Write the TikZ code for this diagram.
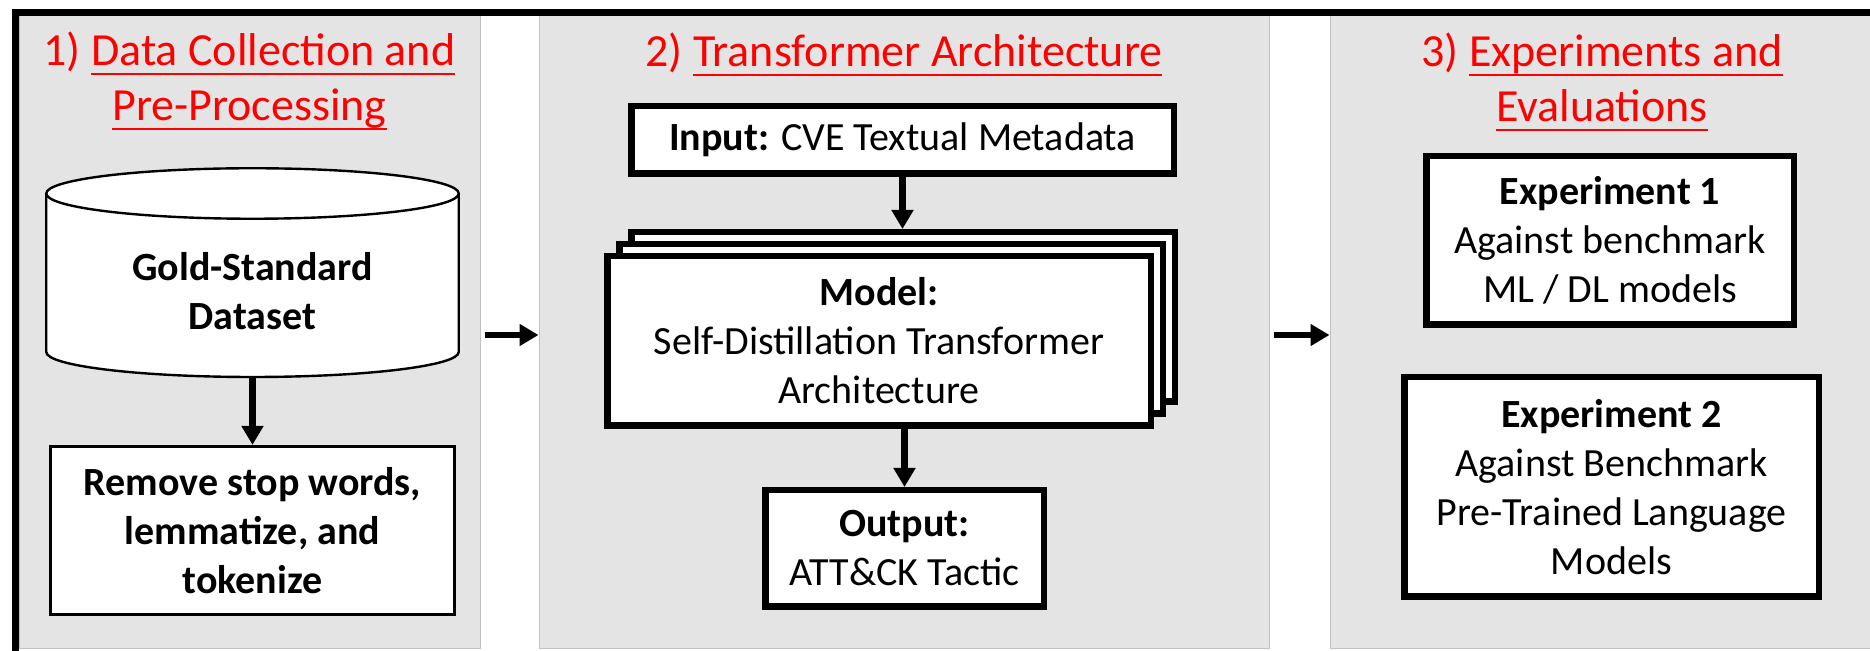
\documentclass[tikz,border=0pt]{standalone}
\usepackage{fontspec}
\setmainfont{Carlito}
\usetikzlibrary{arrows.meta}

\definecolor{panelfill}{RGB}{228,228,228}
\definecolor{paneledge}{RGB}{192,192,192}
\definecolor{headred}{RGB}{255,0,0}

% underline drawn at a fixed depth below the baseline
\newcommand{\headul}[1]{\setbox0=\hbox{#1}\rlap{\rule[-4.6pt]{\wd0}{1.3pt}}\box0}

\begin{document}
\begin{tikzpicture}[x=0.5pt, y=-0.5pt,
  panel/.style={fill=panelfill, draw=paneledge, line width=0.5pt, inner sep=0pt},
  head/.style={text=headred, font=\fontsize{23pt}{27.5pt}\selectfont, inner sep=0pt, anchor=base},
  thickbox/.style={draw=black, fill=white, line width=3.25pt, align=center, inner sep=0pt,
                   font=\fontsize{20pt}{24.5pt}\selectfont},
  thinbox/.style={draw=black, fill=white, line width=1.6pt, align=center, inner sep=0pt,
                  font=\bfseries\fontsize{20pt}{24.5pt}\selectfont},
  cyl/.style={draw=black, line width=1.2pt},
  flow/.style={line width=3.25pt, -{Triangle[width=10.5pt,length=9.5pt]}}]

\useasboundingbox (0,0) rectangle (1870,651);

% three stage panels and the outer frame
\begin{scope}
  \clip (0,0) rectangle (1870,651);
  \node[panel, minimum width=230.5pt, minimum height=316.5pt] (p1) at (249.5,332.5) {};
  \node[panel, minimum width=365pt,   minimum height=316.5pt] (p2) at (904,332.5) {};
  \node[panel, minimum width=280pt,   minimum height=316.5pt] (p3) at (1610,332.5) {};
  \draw[line width=3.5pt] (15.5,12.5) rectangle (1920,720);
\end{scope}

% stage headings
\node[head] (t1a) at (249.5,66)  {1) \headul{Data Collection and}};
\node[head] (t1b) at (249.5,121) {\headul{Pre-Processing}};
\node[head] (t2)  at (904,67)    {2) \headul{Transformer Architecture}};
\node[head] (t3a) at (1602,67)   {3) \headul{Experiments and}};
\node[head] (t3b) at (1602,122)  {\headul{Evaluations}};

% stage 1: dataset cylinder and preprocessing
\fill[white] (46.25,193.5) rectangle (458.75,352);
\fill[white] (46.25,352) .. controls (46.25,365.8) and (138.6,377) .. (252.5,377)
             .. controls (366.4,377) and (458.75,365.8) .. (458.75,352) -- cycle;
\draw[cyl] (46.25,193.5) -- (46.25,352)
           .. controls (46.25,365.8) and (138.6,377) .. (252.5,377)
           .. controls (366.4,377) and (458.75,365.8) .. (458.75,352)
           -- (458.75,193.5);
\draw[cyl, fill=white] (252.5,193.5) ellipse [x radius=206.25, y radius=25.25];
\node[align=center, inner sep=0pt, font=\bfseries\fontsize{20pt}{24.5pt}\selectfont]
  (gold) at (252.5,291) {Gold-Standard\\Dataset};
\coordinate (goldbot) at (252.5,377);

\node[thinbox, minimum width=202pt, minimum height=84pt] (prep) at (252.5,530.5)
  {Remove stop words,\\lemmatize, and\\tokenize};

% stage 2: transformer pipeline
\node[thickbox, minimum width=271.25pt, minimum height=33.75pt] (in) at (902.5,140)
  {\textbf{Input:} CVE Textual Metadata};
\node[thickbox, minimum width=271.75pt, minimum height=84.75pt] (back) at (903,317) {};
\node[thickbox, minimum width=271.75pt, minimum height=84.75pt] (mid)  at (891,329) {};
\node[thickbox, minimum width=271.75pt, minimum height=84.75pt] (front) at (879,341)
  {\textbf{Model:}\\Self-Distillation Transformer\\Architecture};
\node[thickbox, minimum width=139.25pt, minimum height=58.25pt] (out) at (904.5,548.5)
  {\textbf{Output:}\\ATT\&CK Tactic};

% stage 3: experiments
\node[thickbox, minimum width=183.75pt, minimum height=84.25pt] (exp1) at (1610,240.5)
  {\textbf{Experiment 1}\\Against benchmark\\ML / DL models};
\node[thickbox, minimum width=207.25pt, minimum height=109.75pt] (exp2) at (1611.5,487)
  {\textbf{Experiment 2}\\Against Benchmark\\Pre-Trained Language\\Models};

% connectors
\coordinate (lane) at (0,335);
\draw[flow] (goldbot) -- (prep.north);
\draw[flow] (in.south) -- (in.south |- back.north);
\draw[flow] (out.north |- front.south) -- (out.north);
\draw[flow, shorten <=2pt] (p1.east |- lane) -- (p2.west |- lane);
\draw[flow, shorten <=2pt] (p2.east |- lane) -- (p3.west |- lane);
\end{tikzpicture}
\end{document}
